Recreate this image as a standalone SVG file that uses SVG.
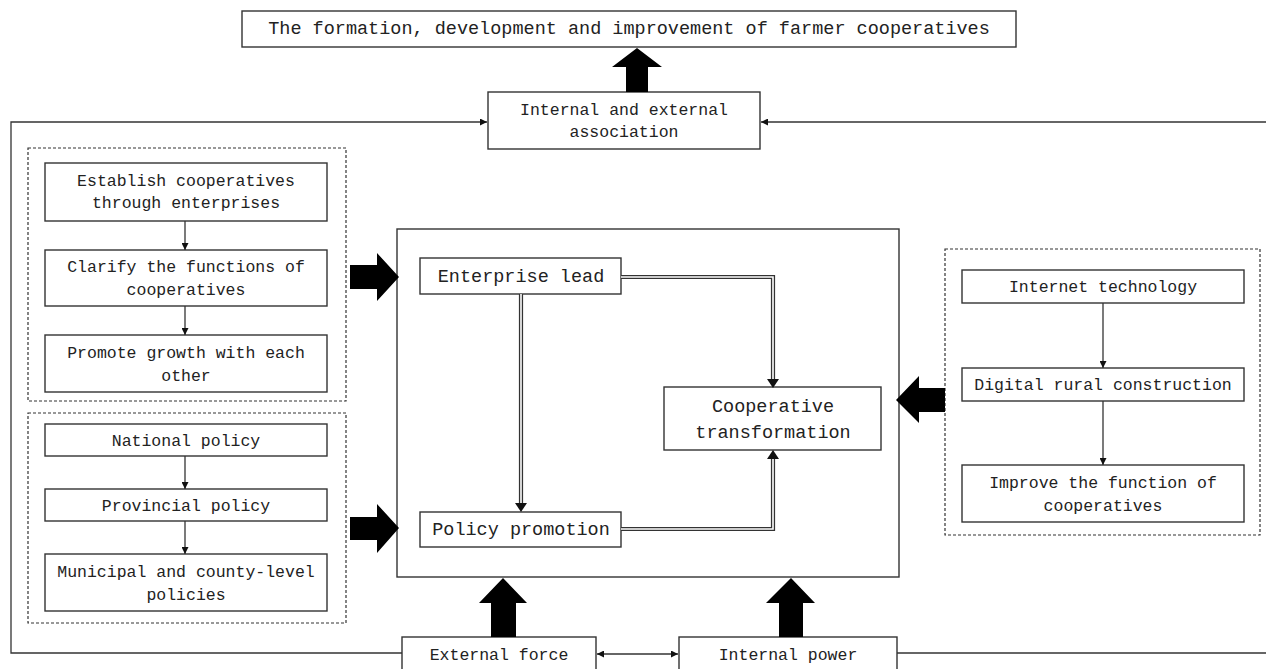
<svg xmlns="http://www.w3.org/2000/svg" width="1266" height="669" viewBox="0 0 1266 669">
<style>
.box{fill:#fff;stroke:#333;stroke-width:1.4}
.frame{fill:none;stroke:#333;stroke-width:1.4}
.dash{fill:none;stroke:#333;stroke-width:1.2;stroke-dasharray:3 2}
.ln{fill:none;stroke:#333;stroke-width:1.3}
.t{font-family:"Liberation Mono",monospace;font-size:16.5px;fill:#222;text-anchor:middle;dominant-baseline:central}
.tb{font-family:"Liberation Mono",monospace;font-size:18.5px;fill:#222;text-anchor:middle;dominant-baseline:central}
.big{fill:#000}
.dbl1{fill:none;stroke:#333;stroke-width:4.2}
.dbl2{fill:none;stroke:#fff;stroke-width:1.6}
</style>
<defs>
<marker id="ah" viewBox="0 0 10 10" refX="10" refY="5" markerWidth="7" markerHeight="7" markerUnits="userSpaceOnUse" orient="auto-start-reverse">
<path d="M0,0 L10,5 L0,10 z" fill="#111"/>
</marker>
</defs>
<rect width="1266" height="669" fill="#fff"/>

<g id="title">
<rect class="box" x="242" y="11" width="774" height="36"/>
<text class="tb" x="629" y="29">The formation, development and improvement of farmer cooperatives</text>
</g>
<g id="association">
<rect class="box" x="488" y="92" width="272" height="57"/>
<text class="t" x="624" y="110">Internal and external</text>
<text class="t" x="624" y="132">association</text>
</g>

<g id="group-enterprise">
<rect class="dash" x="28" y="148" width="318" height="253"/>
<g id="n-establish">
<rect class="box" x="45" y="163" width="282" height="58"/>
<text class="t" x="186" y="181">Establish cooperatives</text>
<text class="t" x="186" y="203">through enterprises</text>
</g>
<g id="n-clarify">
<rect class="box" x="45" y="250" width="282" height="56"/>
<text class="t" x="186" y="267">Clarify the functions of</text>
<text class="t" x="186" y="290">cooperatives</text>
</g>
<g id="n-promote">
<rect class="box" x="45" y="335" width="282" height="57"/>
<text class="t" x="186" y="353">Promote growth with each</text>
<text class="t" x="186" y="376">other</text>
</g>
</g>

<g id="group-policy">
<rect class="dash" x="28" y="413" width="318" height="210"/>
<g id="n-national">
<rect class="box" x="45" y="424" width="282" height="32"/>
<text class="t" x="186" y="441">National policy</text>
</g>
<g id="n-provincial">
<rect class="box" x="45" y="489" width="282" height="32"/>
<text class="t" x="186" y="506">Provincial policy</text>
</g>
<g id="n-municipal">
<rect class="box" x="45" y="554" width="282" height="57"/>
<text class="t" x="186" y="572">Municipal and county-level</text>
<text class="t" x="186" y="595">policies</text>
</g>
</g>

<g id="main">
<rect class="frame" x="397" y="229" width="502" height="348"/>
<g id="n-enterprise-lead">
<rect class="box" x="420" y="258" width="201" height="36"/>
<text class="tb" x="521" y="277">Enterprise lead</text>
</g>
<g id="n-policy-promotion">
<rect class="box" x="420" y="512" width="201" height="35"/>
<text class="tb" x="521" y="530">Policy promotion</text>
</g>
<g id="n-coop-transformation">
<rect class="box" x="664" y="387" width="217" height="63"/>
<text class="tb" x="773" y="407">Cooperative</text>
<text class="tb" x="773" y="433">transformation</text>
</g>
</g>

<g id="group-digital">
<rect class="dash" x="945" y="249" width="315" height="286"/>
<g id="n-internet">
<rect class="box" x="962" y="270" width="282" height="33"/>
<text class="t" x="1103" y="287">Internet technology</text>
</g>
<g id="n-digital">
<rect class="box" x="962" y="368" width="282" height="33"/>
<text class="t" x="1103" y="385">Digital rural construction</text>
</g>
<g id="n-improve">
<rect class="box" x="962" y="465" width="282" height="57"/>
<text class="t" x="1103" y="483">Improve the function of</text>
<text class="t" x="1103" y="506">cooperatives</text>
</g>
</g>

<g id="external-force">
<rect class="box" x="402" y="637" width="194" height="45"/>
<text class="t" x="499" y="655">External force</text>
</g>
<g id="internal-power">
<rect class="box" x="679" y="637" width="218" height="45"/>
<text class="t" x="788" y="655">Internal power</text>
</g>

<g id="connectors">
<polyline class="ln" points="402,653 11,653 11,122 487,122" marker-end="url(#ah)"/>
<polyline class="ln" points="1266,122 761,122" marker-end="url(#ah)"/>
<line class="ln" x1="897" y1="653" x2="1266" y2="653"/>
<line class="ln" x1="597" y1="654" x2="678" y2="654" marker-start="url(#ah)" marker-end="url(#ah)"/>
<line class="ln" x1="185" y1="221" x2="185" y2="250" marker-end="url(#ah)"/>
<line class="ln" x1="185" y1="306" x2="185" y2="335" marker-end="url(#ah)"/>
<line class="ln" x1="185" y1="456" x2="185" y2="489" marker-end="url(#ah)"/>
<line class="ln" x1="185" y1="521" x2="185" y2="554" marker-end="url(#ah)"/>
<line class="ln" x1="1103" y1="303" x2="1103" y2="368" marker-end="url(#ah)"/>
<line class="ln" x1="1103" y1="401" x2="1103" y2="465" marker-end="url(#ah)"/>
<path class="dbl1" d="M621,277 H773 V381"/>
<path class="dbl2" d="M621,277 H773 V381"/>
<path class="dbl1" d="M521,294 V506"/>
<path class="dbl2" d="M521,294 V506"/>
<path class="dbl1" d="M621,529 H773 V456"/>
<path class="dbl2" d="M621,529 H773 V456"/>
<path d="M767,379 L779,379 L773,388 z" fill="#111"/>
<path d="M515,503 L527,503 L521,512 z" fill="#111"/>
<path d="M767,459 L779,459 L773,450 z" fill="#111"/>
<polygon class="big" points="626,92 648,92 648,67 662,67 637,48 612,67 626,67"/>
<polygon class="big" points="350,265 377,265 377,253 399,277 377,301 377,289 350,289"/>
<polygon class="big" points="350,517 377,517 377,504 399,528 377,553 377,540 350,540"/>
<polygon class="big" points="945,388 919,388 919,376 896,400 919,423 919,412 945,412"/>
<polygon class="big" points="491,637 516,637 516,603 527,603 503,578 479,603 491,603"/>
<polygon class="big" points="779,637 803,637 803,603 815,603 791,578 766,603 779,603"/>
</g>
</svg>
